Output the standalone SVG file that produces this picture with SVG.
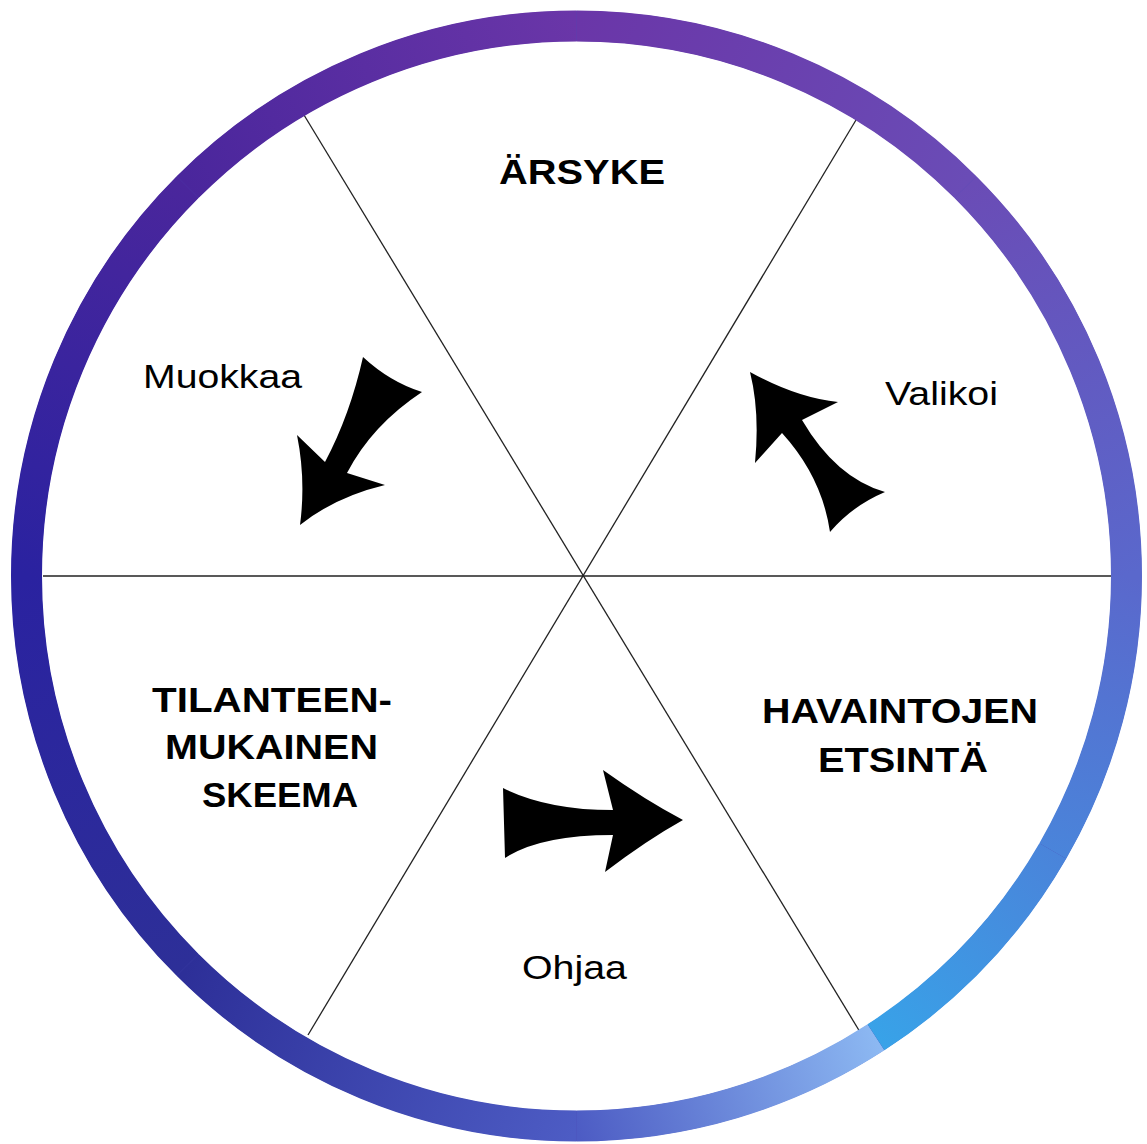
<svg xmlns="http://www.w3.org/2000/svg" width="1147" height="1144" viewBox="0 0 1147 1144">
<style>
.bg{fill:#ffffff}
.div{stroke:#222222;stroke-width:1.3;fill:none}
.seg{fill:none;stroke-width:31;stroke-linecap:butt}
.head{font-family:"Liberation Sans",Arial,sans-serif;font-weight:bold;font-size:35px;fill:#000000}
.lab{font-family:"Liberation Sans",Arial,sans-serif;font-size:34px;fill:#000000}
.arrow{fill:#000000;stroke:none}
</style>
<defs>
<linearGradient id="g1" gradientUnits="userSpaceOnUse" x1="876" y1="1037.3" x2="576.5" y2="1126"><stop offset="0" stop-color="#8cb8f2"/><stop offset="1" stop-color="#4d5cc4"/></linearGradient>
<linearGradient id="g2" gradientUnits="userSpaceOnUse" x1="576.5" y1="1126" x2="187.6" y2="964.9"><stop offset="0" stop-color="#4d5cc4"/><stop offset="1" stop-color="#2d2f98"/></linearGradient>
<linearGradient id="g3" gradientUnits="userSpaceOnUse" x1="187.6" y1="964.9" x2="26.5" y2="576"><stop offset="0" stop-color="#2d2f98"/><stop offset="1" stop-color="#2a22a0"/></linearGradient>
<linearGradient id="g4" gradientUnits="userSpaceOnUse" x1="26.5" y1="576" x2="187.6" y2="187.1"><stop offset="0" stop-color="#2a22a0"/><stop offset="1" stop-color="#4a269c"/></linearGradient>
<linearGradient id="g5" gradientUnits="userSpaceOnUse" x1="187.6" y1="187.1" x2="576.5" y2="26"><stop offset="0" stop-color="#4a269c"/><stop offset="1" stop-color="#6a36a8"/></linearGradient>
<linearGradient id="g6" gradientUnits="userSpaceOnUse" x1="576.5" y1="26" x2="965.4" y2="187.1"><stop offset="0" stop-color="#6a36a8"/><stop offset="1" stop-color="#6a4cb6"/></linearGradient>
<linearGradient id="g7" gradientUnits="userSpaceOnUse" x1="965.4" y1="187.1" x2="1126.5" y2="576"><stop offset="0" stop-color="#6a4cb6"/><stop offset="1" stop-color="#5a68cc"/></linearGradient>
<linearGradient id="g8" gradientUnits="userSpaceOnUse" x1="1126.5" y1="576" x2="1052.8" y2="851"><stop offset="0" stop-color="#5a68cc"/><stop offset="1" stop-color="#4a84da"/></linearGradient>
<linearGradient id="g9" gradientUnits="userSpaceOnUse" x1="1052.8" y1="851" x2="876" y2="1037.3"><stop offset="0" stop-color="#4a84da"/><stop offset="1" stop-color="#38a2e8"/></linearGradient>
</defs>
<rect class="bg" x="0" y="0" width="1147" height="1144"/>
<g id="connectors">
<line class="div" x1="43" y1="576" x2="1111" y2="576"/>
<line class="div" x1="304" y1="115" x2="860" y2="1032"/>
<line class="div" x1="856" y1="120" x2="308" y2="1035"/>
</g>
<g id="ring">
<circle cx="576.5" cy="576" r="550" fill="none" stroke="#4a48b4" stroke-width="30"/>
<path class="seg" stroke="url(#g1)" d="M876,1037.3 A550,550 0 0 1 576.5,1126"/>
<path class="seg" stroke="url(#g2)" d="M576.5,1126 A550,550 0 0 1 187.6,964.9"/>
<path class="seg" stroke="url(#g3)" d="M187.6,964.9 A550,550 0 0 1 26.5,576"/>
<path class="seg" stroke="url(#g4)" d="M26.5,576 A550,550 0 0 1 187.6,187.1"/>
<path class="seg" stroke="url(#g5)" d="M187.6,187.1 A550,550 0 0 1 576.5,26"/>
<path class="seg" stroke="url(#g6)" d="M576.5,26 A550,550 0 0 1 965.4,187.1"/>
<path class="seg" stroke="url(#g7)" d="M965.4,187.1 A550,550 0 0 1 1126.5,576"/>
<path class="seg" stroke="url(#g8)" d="M1126.5,576 A550,550 0 0 1 1052.8,851"/>
<path class="seg" stroke="url(#g9)" d="M1052.8,851 A550,550 0 0 1 876,1037.3"/>
</g>
<g id="node-arsyke">
<text class="head" x="499" y="184" textLength="166" lengthAdjust="spacingAndGlyphs">ÄRSYKE</text>
</g>
<g id="node-havaintojen">
<text class="head" x="762" y="723" textLength="276" lengthAdjust="spacingAndGlyphs">HAVAINTOJEN</text>
<text class="head" x="818" y="772" textLength="170" lengthAdjust="spacingAndGlyphs">ETSINTÄ</text>
</g>
<g id="node-skeema">
<text class="head" x="152" y="712" textLength="240" lengthAdjust="spacingAndGlyphs">TILANTEEN-</text>
<text class="head" x="165" y="759" textLength="213" lengthAdjust="spacingAndGlyphs">MUKAINEN</text>
<text class="head" x="202" y="807" textLength="156" lengthAdjust="spacingAndGlyphs">SKEEMA</text>
</g>
<g id="arrow-muokkaa">
<path class="arrow" d="M363,357 Q350,415 325,462 L297,435 Q306,480 300,525 Q335,497 385,485 L347,473 Q372,425 422,392 Q390,382 363,357 Z"/>
<text class="lab" x="143" y="388" textLength="159" lengthAdjust="spacingAndGlyphs">Muokkaa</text>
</g>
<g id="arrow-valikoi">
<path class="arrow" d="M750,372 Q797,398 838,402 L802,420 Q836,478 885,492 Q852,506 830,532 Q822,477 782,433 L755,463 Q760,412 750,372 Z"/>
<text class="lab" x="885" y="405" textLength="113" lengthAdjust="spacingAndGlyphs">Valikoi</text>
</g>
<g id="arrow-ohjaa">
<path class="arrow" d="M503,788 Q547,810 613,810 L603,770 Q645,800 683,820 Q647,840 605,872 L613,835 Q540,835 505,858 Z"/>
<text class="lab" x="522" y="979" textLength="105" lengthAdjust="spacingAndGlyphs">Ohjaa</text>
</g>
</svg>
